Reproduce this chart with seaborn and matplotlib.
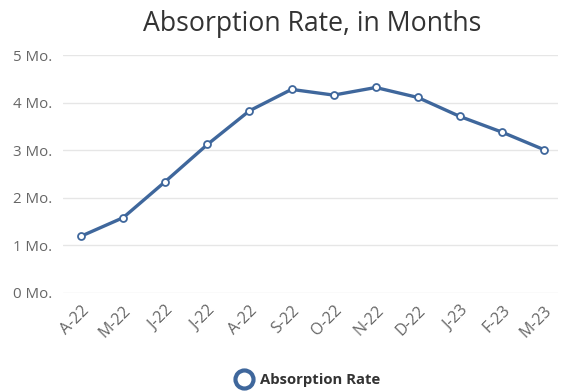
import numpy as np
import pandas as pd
import matplotlib
matplotlib.use("Agg")
import matplotlib.pyplot as plt
from matplotlib.lines import Line2D
import seaborn as sns

# Monthly absorption rate (months of supply)
months = ["A-22", "M-22", "J-22", "J-22", "A-22", "S-22",
          "O-22", "N-22", "D-22", "J-23", "F-23", "M-23"]
absorption = [1.19, 1.58, 2.34, 3.12, 3.83, 4.28,
              4.16, 4.32, 4.11, 3.71, 3.38, 3.01]
y_ticks = [0, 1, 2, 3, 4, 5]
y_tick_labels = [f"{v} Mo." for v in y_ticks]

LINE = "#3f679c"

sns.set_theme(style="white")
plt.rcParams["font.family"] = ["Open Sans", "DejaVu Sans"]

df = pd.DataFrame({"idx": np.arange(len(months)), "rate": absorption})

fig = plt.figure(figsize=(5.61, 3.92), dpi=100)
ax = fig.add_axes([63 / 561, 1 - 292.7 / 392, (558 - 63) / 561, (292.7 - 55.2) / 392])

sns.lineplot(data=df, x="idx", y="rate", ax=ax, color=LINE, linewidth=2.4,
             marker="o", markersize=5, markerfacecolor="white",
             markeredgecolor=LINE, markeredgewidth=1.3, zorder=3)

ax.set_ylim(0, 5)
ax.set_xlim(-0.43, 11.33)
ax.set_yticks(y_ticks)
ax.set_yticklabels(y_tick_labels)
ax.set_xticks(df["idx"])
ax.set_xticklabels(months, rotation=45, ha="right", va="top", rotation_mode="anchor")
ax.tick_params(axis="y", length=0, labelsize=10.8, labelcolor="#666666", pad=8)
ax.tick_params(axis="x", length=0, labelsize=11.5, labelcolor="#666666", pad=7)
ax.grid(axis="y", color="#e6e6e6", linewidth=1)
ax.grid(axis="x", visible=False)
for s in ax.spines.values():
    s.set_visible(False)
ax.set_xlabel("")
ax.set_ylabel("")

fig.text(312 / 561, 1 - 24 / 392, "Absorption Rate, in Months", ha="center", va="center",
         fontsize=19.2, color="#333333")

handle = Line2D([], [], linestyle="none", marker="o", markersize=13,
                markerfacecolor="white", markeredgecolor=LINE, markeredgewidth=3)
fig.legend([handle], ["Absorption Rate"], loc="center", bbox_to_anchor=(305 / 561, 1 - 380 / 392),
           frameon=False, handletextpad=0.1, prop={"size": 10.7, "weight": "bold"},
           labelcolor="#333333")

fig.savefig("out.png", dpi=100)
